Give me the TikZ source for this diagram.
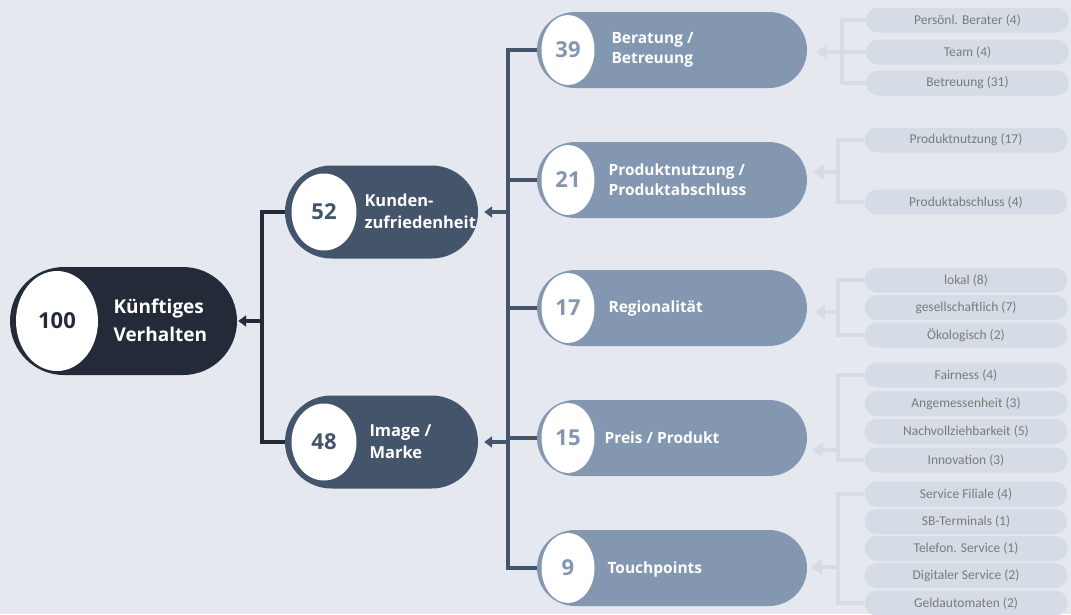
\documentclass[tikz,border=0pt]{standalone}
\usepackage{fontspec}
\setmainfont{Open Sans}
\newfontfamily\leaffont{Carlito}
\usetikzlibrary{shapes.misc,shapes.geometric,arrows.meta}
\definecolor{bgc}{HTML}{E5E8EE}
\definecolor{rootc}{HTML}{232B38}
\definecolor{midc}{HTML}{44546A}
\definecolor{subc}{HTML}{8497B0}
\definecolor{leafc}{HTML}{D6DCE5}
\definecolor{leaftxt}{HTML}{7A7A7A}
\tikzset{
  pillbase/.style={rounded rectangle, inner sep=0pt, draw=none},
  rootpill/.style={pillbase, fill=rootc, minimum width=227, minimum height=108},
  midpill/.style={pillbase, fill=midc, minimum width=193, minimum height=93},
  subpill/.style={pillbase, fill=subc, minimum width=270, minimum height=76},
  leafpill/.style={pillbase, fill=leafc, minimum width=203, minimum height=25,
     font=\leaffont\fontsize{13.5}{13.5}\selectfont, text=leaftxt},
  numoval/.style={ellipse, fill=white, inner sep=0pt, font=\bfseries\fontsize{22}{22}\selectfont},
  rootnum/.style={numoval, minimum width=82, minimum height=100, text=rootc},
  midnum/.style={numoval, minimum width=65, minimum height=77, text=midc},
  subnum/.style={numoval, minimum width=53, minimum height=70, text=subc},
  roottxt/.style={anchor=west, text=white, align=left, font=\bfseries\fontsize{19}{28}\selectfont},
  midtxt/.style={anchor=west, text=white, align=left, font=\bfseries\fontsize{16.5}{22}\selectfont},
  subtxt/.style={anchor=west, text=white, align=left, font=\bfseries\fontsize{15.5}{20}\selectfont},
  rootline/.style={draw=rootc, line width=3.5pt},
  midline/.style={draw=midc, line width=3.5pt},
  leafline/.style={draw=leafc, line width=4pt},
  leafarrow/.style={draw=leafc, line width=4pt, -{Triangle[width=15pt,length=11pt]}},
}
\begin{document}
\begin{tikzpicture}[x=1pt,y=-1pt]
\useasboundingbox[fill=bgc] (0,0) rectangle (1071,614);

% root
\node[rootpill] (root) at (123.5,321) {};
\node[rootnum] (rootn) at (57,321) {100};
\node[roottxt] (roott) at (110,320) {Künftiges\\Verhalten};

% level 2
\node[midpill] (kz) at (381.5,212) {};
\node[midnum] (kzn) at (324,212) {52};
\node[midtxt] (kzt) at (361,211) {Kunden-\\zufriedenheit};

\node[midpill] (im) at (381.5,442) {};
\node[midnum] (imn) at (324,442) {48};
\node[midtxt] (imt) at (366,442) {Image /\\Marke};

% level 3
\node[subpill] (be) at (672,50) {};
\node[subnum] (ben) at (568,50) {39};
\node[subtxt] (bet) at (608,50) {Beratung /\\Betreuung};

\node[subpill] (pr) at (672,180) {};
\node[subnum] (prn) at (568,180) {21};
\node[subtxt] (prt) at (605,180) {Produktnutzung /\\Produktabschluss};

\node[subpill] (re) at (672,308) {};
\node[subnum] (ren) at (568,308) {17};
\node[subtxt] (ret) at (605,308) {Regionalität};

\node[subpill] (pp) at (672,438) {};
\node[subnum] (ppn) at (568,438) {15};
\node[subtxt] (ppt) at (601,438) {Preis / Produkt};

\node[subpill] (tp) at (672,568) {};
\node[subnum] (tpn) at (568,568) {9};
\node[subtxt] (tpt) at (604,569) {Touchpoints};

% connectors root level
\coordinate (rbar) at (262,321);
\draw[rootline] (kz.west) -| (rbar) |- (im.west);
\draw[rootline, -{Triangle[width=11pt,length=8pt]}, shorten >=1pt] (rbar) -- (root.east);

% connectors mid level
\coordinate (mtop) at (508,50);
\coordinate (mbot) at (508,568);
\draw[midline] (be.west) -- (mtop) -- (mbot) -- (tp.west);
\draw[midline] (mtop |- pr.west) -- (pr.west);
\draw[midline] (mtop |- re.west) -- (re.west);
\draw[midline] (mtop |- pp.west) -- (pp.west);
\draw[midline, -{Triangle[width=11pt,length=8pt]}, shorten >=6pt] (mtop |- kz.east) -- (kz.east);
\draw[midline, -{Triangle[width=11pt,length=8pt]}, shorten >=6pt] (mtop |- im.east) -- (im.east);

% leaves group 1
\node[leafpill] (l11) at (967.5,20) {Persönl. Berater (4)};
\node[leafpill] (l12) at (967.5,52) {Team (4)};
\node[leafpill] (l13) at (967.5,83) {Betreuung (31)};
\coordinate (g1) at (842,52);
\coordinate (g1e) at (816,52);
\draw[leafline] (l11.west) -| (g1) |- (l13.west);
\draw[leafline] (l12.west) -- (g1);
\draw[leafarrow] (g1) -- (g1e);

% group 2
\node[leafpill] (l21) at (966,140) {Produktnutzung (17)};
\node[leafpill] (l22) at (966,202) {Produktabschluss (4)};
\coordinate (g2) at (838,172);
\coordinate (g2e) at (813,172);
\draw[leafline] (l21.west) -| (g2) |- (l22.west);
\draw[leafarrow] (g2) -- (g2e);

% group 3
\node[leafpill] (l31) at (966,280) {lokal (8)};
\node[leafpill] (l32) at (966,307.5) {gesellschaftlich (7)};
\node[leafpill] (l33) at (966,335) {Ökologisch (2)};
\coordinate (g3) at (838,312);
\coordinate (g3e) at (814,312);
\draw[leafline] (l31.west) -| (g3) |- (l33.west);
\draw[leafarrow] (g3) -- (g3e);

% group 4
\node[leafpill] (l41) at (966,375) {Fairness (4)};
\node[leafpill] (l42) at (966,403.5) {Angemessenheit (3)};
\node[leafpill] (l43) at (966,431.5) {Nachvollziehbarkeit (5)};
\node[leafpill] (l44) at (966,460) {Innovation (3)};
\coordinate (g4) at (838,450);
\coordinate (g4e) at (812,450);
\draw[leafline] (l41.west) -| (g4) |- (l44.west);
\draw[leafarrow] (g4) -- (g4e);

% group 5
\node[leafpill] (l51) at (966,494) {Service Filiale (4)};
\node[leafpill] (l52) at (966,521.5) {SB-Terminals (1)};
\node[leafpill] (l53) at (966,548.5) {Telefon. Service (1)};
\node[leafpill] (l54) at (966,575.5) {Digitaler Service (2)};
\node[leafpill] (l55) at (966,603) {Geldautomaten (2)};
\coordinate (g5) at (838,567);
\coordinate (g5e) at (811,567);
\draw[leafline] (l51.west) -| (g5) |- (l55.west);
\draw[leafarrow] (g5) -- (g5e);
\end{tikzpicture}
\end{document}
